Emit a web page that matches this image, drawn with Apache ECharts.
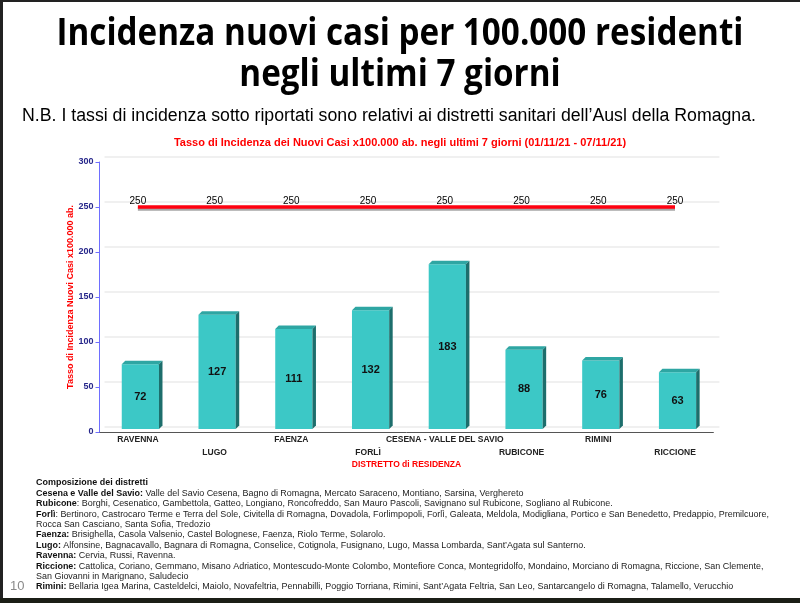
<!DOCTYPE html>
<html>
<head>
<meta charset="utf-8">
<script src="https://cdn.jsdelivr.net/npm/echarts@6/dist/echarts.min.js"></script>
<style>
html, body { margin: 0; padding: 0; background: #fff; }
#main { width: 800px; height: 603px; }
</style>
</head>
<body>
<div id="main"></div>
<script>
// dati
var categorie = ['RAVENNA', 'LUGO', 'FAENZA', 'FORLÌ', 'CESENA - VALLE DEL SAVIO', 'RUBICONE', 'RIMINI', 'RICCIONE'];
var incidenza = [72, 127, 111, 132, 183, 88, 76, 63];
var soglia = [250, 250, 250, 250, 250, 250, 250, 250];
var yMin = 0, yMax = 300, yStep = 50;

var titolo = ['Incidenza nuovi casi per 100.000 residenti', 'negli ultimi 7 giorni'];
var nota = 'N.B. I tassi di incidenza sotto riportati sono relativi ai distretti sanitari dell\u2019Ausl della Romagna.';
var titoloGrafico = 'Tasso di Incidenza dei Nuovi Casi x100.000 ab. negli ultimi 7 giorni (01/11/21 - 07/11/21)';

var composizione = [
	['Composizione dei distretti', ''],
	['Cesena e Valle del Savio:', ' Valle del Savio Cesena, Bagno di Romagna, Mercato Saraceno, Montiano, Sarsina, Verghereto'],
	['Rubicone', ': Borghi, Cesenatico, Gambettola, Gatteo, Longiano, Roncofreddo, San Mauro Pascoli, Savignano sul Rubicone, Sogliano al Rubicone.'],
	['Forlì', ': Bertinoro, Castrocaro Terme e Terra del Sole, Civitella di Romagna, Dovadola, Forlimpopoli, Forlì, Galeata, Meldola, Modigliana, Portico e San Benedetto, Predappio, Premilcuore,'],
	['', 'Rocca San Casciano, Santa Sofia, Tredozio'],
	['Faenza:', ' Brisighella, Casola Valsenio, Castel Bolognese, Faenza, Riolo Terme, Solarolo.'],
	['Lugo:', ' Alfonsine, Bagnacavallo, Bagnara di Romagna, Conselice, Cotignola, Fusignano, Lugo, Massa Lombarda, Sant\u2019Agata sul Santerno.'],
	['Ravenna:', ' Cervia, Russi, Ravenna.'],
	['Riccione:', ' Cattolica, Coriano, Gemmano, Misano Adriatico, Montescudo-Monte Colombo, Montefiore Conca, Montegridolfo, Mondaino, Morciano di Romagna, Riccione, San Clemente,'],
	['', 'San Giovanni in Marignano, Saludecio'],
	['Rimini:', ' Bellaria Igea Marina, Casteldelci, Maiolo, Novafeltria, Pennabilli, Poggio Torriana, Rimini, Sant\u2019Agata Feltria, San Leo, Santarcangelo di Romagna, Talamello, Verucchio']
];

// misura testo per adattare la larghezza dei font stretti (Calibri / Arial Narrow)
var cnv = document.createElement('canvas').getContext('2d');
function larghezza(txt, font) {
	cnv.font = font;
	return cnv.measureText(txt).width;
}

var fontTitolo = 'bold 37px "Open Sans"';
var scalaTitolo = 687 / larghezza(titolo[0], fontTitolo);
var fontNota = '18px "Liberation Sans"';
var scalaNota = 734 / larghezza(nota, fontNota);
var fontComp = '8.5px "Liberation Sans"';
var fontCompB = 'bold 8.5px "Liberation Sans"';
var scalaComp = 733 / (larghezza(composizione[3][0], fontCompB) + larghezza(composizione[3][1], fontComp));

var grafica = [
	{ type: 'rect', shape: { x: 0, y: 0, width: 800, height: 2 }, style: { fill: '#222' } },
	{ type: 'rect', shape: { x: 0, y: 0, width: 3, height: 603 }, style: { fill: '#222' } },
	{ type: 'rect', shape: { x: 0, y: 598, width: 800, height: 5 }, style: { fill: '#1b1e16' } },
	{ type: 'text', x: 400, y: 34, scaleX: scalaTitolo, style: { text: titolo[0], font: fontTitolo, fill: '#000', textAlign: 'center', textVerticalAlign: 'middle' } },
	{ type: 'text', x: 400, y: 75, scaleX: scalaTitolo, style: { text: titolo[1], font: fontTitolo, fill: '#000', textAlign: 'center', textVerticalAlign: 'middle' } },
	{ type: 'text', x: 22, y: 116, scaleX: scalaNota, style: { text: nota, font: fontNota, fill: '#000', textAlign: 'left', textVerticalAlign: 'middle' } },
	{ type: 'text', x: 10, y: 586, style: { text: '10', font: '13px "Liberation Sans"', fill: '#8a8a8a', textAlign: 'left', textVerticalAlign: 'middle' } }
];

composizione.forEach(function(r, i) {
	var t = (r[0] ? '{b|' + r[0] + '}' : '') + r[1];
	grafica.push({
		type: 'text', x: 36, y: 483 + i * 10.4, scaleX: scalaComp,
		style: {
			text: t, font: fontComp, fill: '#222', textAlign: 'left', textVerticalAlign: 'middle',
			rich: { b: { font: fontCompB, fill: '#111' } }
		}
	});
});

function barra3d(params, api) {
	var v = api.value(1);
	var base = api.coord([api.value(0), 0]);
	var cima = api.coord([api.value(0), v]);
	var banda = api.size([1, 0])[0];
	var w = banda * 0.485, d = 3.5, alza = 3;
	var x0 = base[0] + 2.5 - w / 2, x1 = x0 + w;
	var yb = base[1] - alza, yt = cima[1] - alza;
	return {
		type: 'group',
		children: [
			{ type: 'rect', shape: { x: x0, y: yt, width: w, height: yb - yt }, style: { fill: '#3cc8c6' } },
			{ type: 'polygon', shape: { points: [[x0, yt], [x0 + d, yt - d], [x1 + d, yt - d], [x1, yt]] }, style: { fill: '#2ea6a3' } },
			{ type: 'polygon', shape: { points: [[x1, yt], [x1 + d, yt - d], [x1 + d, yb - d], [x1, yb]] }, style: { fill: '#1d6e6c' } },
			{ type: 'text', x: (x0 + x1) / 2, y: (yt + yb) / 2, style: { text: String(v), font: 'bold 11px "Liberation Sans"', fill: '#111', textAlign: 'center', textVerticalAlign: 'middle' } }
		]
	};
}

var myChart = echarts.init(document.getElementById('main'));
var option = {
	backgroundColor: '#fff',
	animation: false,
	title: {
		text: titoloGrafico,
		left: 'center',
		top: 132,
		textStyle: { color: '#ff0000', fontSize: 11, fontWeight: 'bold', fontFamily: 'Liberation Sans' }
	},
	graphic: grafica,
	grid: [
		{ left: 99.5, right: 86.6, top: 162, bottom: 171 },
		{ left: 104.5, right: 80.6, top: 156.5, bottom: 176.5 }
	],
	xAxis: [{
		type: 'category',
		data: categorie,
		gridIndex: 0,
		name: 'DISTRETTO di RESIDENZA',
		nameLocation: 'middle',
		nameGap: 28,
		nameMoveOverlap: false,
		nameTextStyle: { color: '#ff0000', fontSize: 8.5, fontWeight: 'bold', fontFamily: 'Liberation Sans' },
		axisLine: { lineStyle: { color: '#555', width: 1 } },
		axisTick: { alignWithLabel: true, length: 4, lineStyle: { color: '#555' } },
		axisLabel: {
			interval: 0,
			margin: 1,
			color: '#222',
			fontSize: 8.5,
			fontWeight: 'bold',
			fontFamily: 'Liberation Sans',
			lineHeight: 13,
			formatter: function(v, i) { return i % 2 ? '\n' + v : v; }
		}
	}, {
		type: 'value', gridIndex: 1, min: 0, max: 1, show: false
	}],
	yAxis: [{
		type: 'value',
		gridIndex: 0,
		min: yMin, max: yMax, interval: yStep,
		name: 'Tasso di Incidenza Nuovi Casi x100.000 ab.',
		nameLocation: 'middle',
		nameGap: 24,
		nameMoveOverlap: false,
		nameRotate: 90,
		nameTextStyle: { color: '#ff0000', fontSize: 9, fontWeight: 'bold', fontFamily: 'Liberation Sans' },
		axisLine: { show: true, lineStyle: { color: '#6e6eff', width: 1 } },
		axisTick: { show: true, length: 4, lineStyle: { color: '#6e6eff' } },
		axisLabel: { color: '#25258a', fontSize: 9, fontWeight: 'bold', fontFamily: 'Liberation Sans', margin: 6 },
		splitLine: { show: false }
	}, {
		type: 'value',
		gridIndex: 1,
		min: yMin, max: yMax, interval: yStep,
		axisLine: { show: false },
		axisTick: { show: false },
		axisLabel: { show: false },
		splitLine: { show: true, lineStyle: { color: '#ebebeb', width: 1.5 } }
	}],
	series: [{
		type: 'custom',
		name: 'Incidenza',
		xAxisIndex: 0,
		yAxisIndex: 0,
		renderItem: barra3d,
		encode: { x: 0, y: 1 },
		data: incidenza.map(function(v, i) { return [i, v]; }),
		z: 3
	}, {
		type: 'line',
		name: 'Soglia',
		xAxisIndex: 0,
		yAxisIndex: 0,
		data: soglia,
		symbol: 'circle',
		symbolSize: 1,
		showSymbol: true,
		itemStyle: { color: 'rgba(255,0,0,0)' },
		lineStyle: { color: '#ff0010', width: 3.5, shadowColor: 'rgba(0,0,0,0.35)', shadowOffsetY: 2, shadowBlur: 0 },
		label: { show: true, position: 'top', distance: 0, color: '#000', fontSize: 10, fontFamily: 'Liberation Sans' },
		z: 4
	}]
};
myChart.setOption(option);
</script>
</body>
</html>
